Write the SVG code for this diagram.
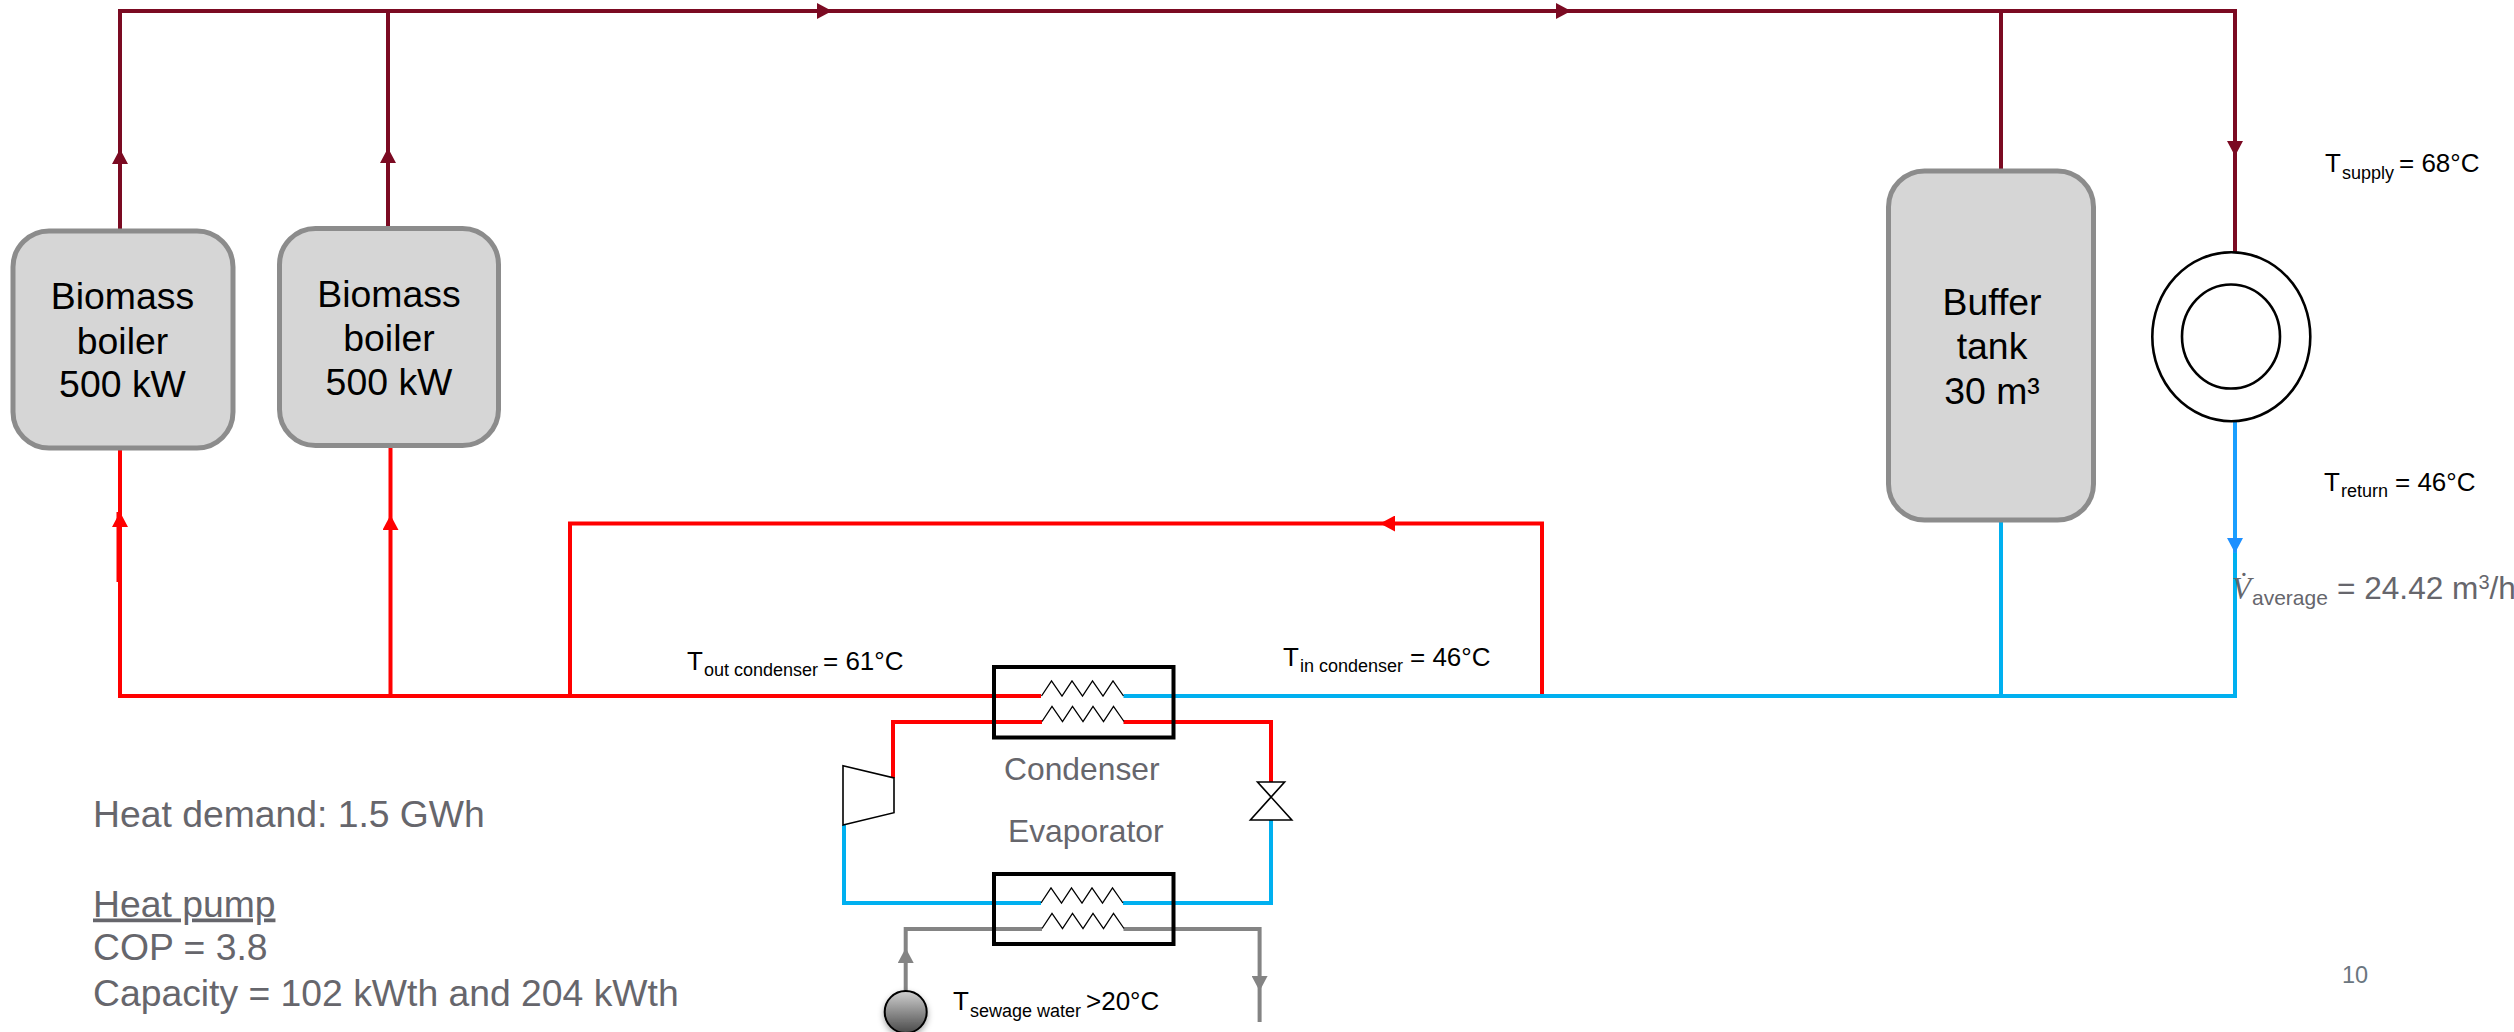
<svg xmlns="http://www.w3.org/2000/svg" width="2514" height="1032" viewBox="0 0 2514 1032">
<style>
text{font-family:"Liberation Sans",Arial,sans-serif}
.pipe{fill:none;stroke-width:4;stroke-linejoin:miter;stroke-linecap:butt}
.m{stroke:#7b0a22}.r{stroke:#ff0000}.b{stroke:#00b0f0}.b2{stroke:#1a9fff}.g{stroke:#848484}
.box{fill:#d6d6d6;stroke:#8c8c8c;stroke-width:5}
.hx{fill:none;stroke:#000;stroke-width:4}
.zig{fill:none;stroke:#000;stroke-width:1.3}
.sym{fill:#fff;stroke:#000;stroke-width:1.6}
.ring{fill:#fff;stroke:#000;stroke-width:2.6}
.nt{font-size:37.4px;fill:#000;text-anchor:middle}
.t{font-size:26px;fill:#000}
.s{font-size:18px}
.gt{fill:#66666c}
.side{font-size:37.3px;fill:#66666c}
</style>
<defs>
<marker id="am" markerUnits="userSpaceOnUse" markerWidth="15" markerHeight="16" viewBox="0 0 15 16" refX="15" refY="8" orient="auto"><path d="M0 0L15 8L0 16z" fill="#7b0a22"/></marker>
<marker id="ar" markerUnits="userSpaceOnUse" markerWidth="15" markerHeight="16" viewBox="0 0 15 16" refX="15" refY="8" orient="auto"><path d="M0 0L15 8L0 16z" fill="#ff0000"/></marker>
<marker id="ab" markerUnits="userSpaceOnUse" markerWidth="15" markerHeight="16" viewBox="0 0 15 16" refX="15" refY="8" orient="auto"><path d="M0 0L15 8L0 16z" fill="#1e90ff"/></marker>
<marker id="ag" markerUnits="userSpaceOnUse" markerWidth="15" markerHeight="16" viewBox="0 0 15 16" refX="15" refY="8" orient="auto"><path d="M0 0L15 8L0 16z" fill="#848484"/></marker>
<linearGradient id="pumpFill" x1="0" y1="0" x2="0" y2="1"><stop offset="0" stop-color="#d0d0d0"/><stop offset="1" stop-color="#4a4a4a"/></linearGradient>
<filter id="shadow" x="-30%" y="-30%" width="160%" height="170%"><feDropShadow dx="0" dy="3" stdDeviation="3" flood-color="#000" flood-opacity="0.35"/></filter>
<path id="zz" class="zig" d="M0 15L10 0L20.5 15L30.5 0L41 15L51 0L61.5 15L71.5 0L82 15"/>
</defs>

<g id="connectors">
<!-- supply header -->
<path class="pipe m" d="M120 229V149" marker-end="url(#am)"/>
<path class="pipe m" d="M120 149V11H832" marker-end="url(#am)"/>
<path class="pipe m" d="M832 11H1571" marker-end="url(#am)"/>
<path class="pipe m" d="M1571 11H2235V156" marker-end="url(#am)"/>
<path class="pipe m" d="M2235 156V252"/>
<path class="pipe m" d="M388 227V148" marker-end="url(#am)"/>
<path class="pipe m" d="M388 148V11"/>
<path class="pipe m" d="M2001 11V170"/>
<!-- red return to boilers -->
<path class="pipe r" d="M1041 696H120V512" marker-end="url(#ar)"/>
<path class="pipe r" d="M118.5 582V512"/>
<path class="pipe r" d="M120 512V450"/>
<path class="pipe r" d="M390.5 696V515" marker-end="url(#ar)"/>
<path class="pipe r" d="M390.5 515V448"/>
<path class="pipe r" d="M1542 696V523.5H1380" marker-end="url(#ar)"/>
<path class="pipe r" d="M1380 523.5H570V696"/>
<!-- blue return -->
<path class="pipe b" d="M1123.5 696H2235V553"/>
<path class="pipe b2" d="M2235 422V553" marker-end="url(#ab)"/>
<path class="pipe b" d="M2001 696V521"/>
<!-- heat pump circuit -->
<path class="pipe r" d="M893 778V722H1042"/>
<path class="pipe r" d="M1123.5 722H1271V782"/>
<path class="pipe b" d="M844 825V903H1041"/>
<path class="pipe b" d="M1123 903H1271V820"/>
<!-- sewage water -->
<path class="pipe g" d="M905.7 992V948" marker-end="url(#ag)"/>
<path class="pipe g" d="M905.7 948V929H1042"/>
<path class="pipe g" d="M1123.5 929H1259.6V991" marker-end="url(#ag)"/>
<path class="pipe g" d="M1259.6 991V1022"/>
</g>

<g id="boiler-1">
<rect class="box" x="13" y="231" width="220" height="217" rx="36" ry="36"/>
<text class="nt" x="122.5" y="308.5">Biomass</text>
<text class="nt" x="122.5" y="353.5">boiler</text>
<text class="nt" x="122.5" y="397">500 kW</text>
</g>
<g id="boiler-2">
<rect class="box" x="279.5" y="228.5" width="219" height="217" rx="36" ry="36"/>
<text class="nt" x="389" y="306.5">Biomass</text>
<text class="nt" x="389" y="351">boiler</text>
<text class="nt" x="389" y="395">500 kW</text>
</g>
<g id="buffer-tank">
<rect class="box" x="1888.5" y="171" width="205" height="349" rx="36" ry="36"/>
<text class="nt" x="1992" y="314.5">Buffer</text>
<text class="nt" x="1992" y="358.5">tank</text>
<text class="nt" x="1992" y="404">30 m³</text>
</g>
<g id="heat-consumer">
<ellipse class="ring" cx="2231.3" cy="336.7" rx="79" ry="84.5"/>
<ellipse class="ring" cx="2231" cy="336.5" rx="49" ry="52"/>
</g>
<g id="condenser">
<rect class="hx" x="994" y="667" width="179.5" height="70.5"/>
<use href="#zz" x="1041.5" y="681"/>
<use href="#zz" x="1042" y="706.5"/>
<text x="1004" y="780" font-size="31.8" class="gt">Condenser</text>
</g>
<g id="evaporator">
<rect class="hx" x="994" y="874" width="179.5" height="70"/>
<use href="#zz" x="1041" y="888"/>
<use href="#zz" x="1042" y="913.5"/>
<text x="1008" y="841.5" font-size="31.8" class="gt">Evaporator</text>
</g>
<g id="compressor">
<path class="sym" d="M843 765.7L894 778V812.7L843 825z"/>
</g>
<g id="expansion-valve">
<path class="sym" d="M1257.5 782H1284.6L1250.4 820H1291.8L1257.5 782z"/>
</g>
<g id="sewage-pump">
<circle cx="905.7" cy="1012" r="21" fill="url(#pumpFill)" stroke="#000" stroke-width="2" filter="url(#shadow)"/>
</g>

<g id="labels">
<text class="t" x="687" y="669.5">T<tspan class="s" x="704" y="675.5">out condenser</tspan><tspan x="823" y="669.5">= 61°C</tspan></text>
<text class="t" x="1283" y="665.5">T<tspan class="s" x="1300" y="671.5">in condenser</tspan><tspan x="1410" y="665.5">= 46°C</tspan></text>
<text class="t" x="2325" y="172">T<tspan class="s" x="2342" y="179">supply</tspan><tspan x="2399" y="172">= 68°C</tspan></text>
<text class="t" x="2324" y="491">T<tspan class="s" x="2341" y="497">return</tspan><tspan x="2395" y="491">= 46°C</tspan></text>
<text class="t" x="953" y="1010">T<tspan class="s" x="970" y="1016.5">sewage water</tspan><tspan x="1086" y="1010">&gt;20°C</tspan></text>
<text x="2232" y="599" font-size="31" fill="#66666c" style="font-family:'Liberation Serif',serif;font-style:italic">V̇</text>
<text x="2252" y="605" font-size="21" class="gt">average</text>
<text x="2337" y="599" font-size="31.6" class="gt">= 24.42 m<tspan font-size="20" dy="-10">3</tspan><tspan dy="10">/h</tspan></text>
<text class="side" x="93" y="826.5">Heat demand: 1.5 GWh</text>
<text class="side" x="93" y="916.5" text-decoration="underline">Heat pump</text>
<text class="side" x="93" y="960">COP = 3.8</text>
<text class="side" x="93" y="1005.5">Capacity = 102 kWth and 204 kWth</text>
<text x="2342" y="983" font-size="23.5" fill="#6b7680">10</text>
</g>
</svg>
